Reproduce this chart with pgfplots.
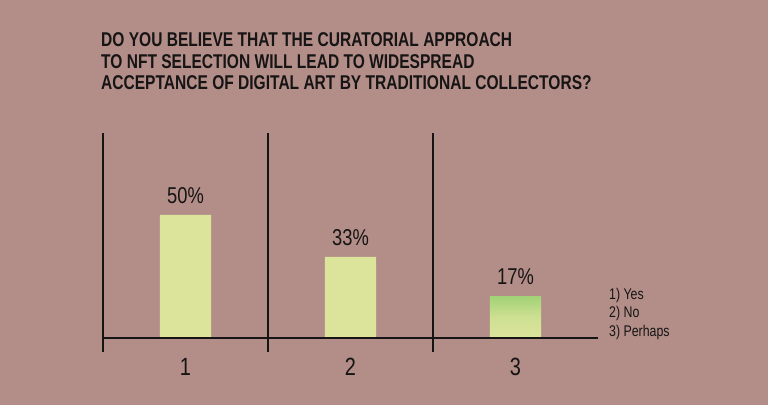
\documentclass[border=0pt]{standalone}
\usepackage{fontspec}
\setmainfont{Liberation Sans}[FakeStretch=0.8]
\newfontfamily\titlefont{Liberation Sans}[FakeStretch=0.78]
\usepackage{pgfplots}
\pgfplotsset{compat=1.18}
\definecolor{bg}{RGB}{179,142,136}
\definecolor{barc}{RGB}{220,228,156}
\definecolor{bargreen}{RGB}{162,210,118}
\definecolor{ink}{RGB}{22,20,20}
\begin{document}
\begin{tikzpicture}[x=1bp,y=1bp]
\fill[bg] (0,0) rectangle (768,405);
\useasboundingbox (0,0) rectangle (768,405);
\node[anchor=north west, align=left, text=ink, inner sep=0,
      font=\titlefont\bfseries\fontsize{20}{22}\selectfont] at (101,373)
  {DO YOU BELIEVE THAT THE CURATORIAL APPROACH\\
   TO NFT SELECTION WILL LEAD TO WIDESPREAD\\
   ACCEPTANCE OF DIGITAL ART BY TRADITIONAL COLLECTORS?};
\begin{axis}[at={(103bp,53bp)}, anchor=south west, scale only axis,
  width=495bp, height=219bp,
  xmin=0.5, xmax=3.5, ymin=-5.7, ymax=83.3,
  axis line style={draw=none}, tick style={draw=none},
  ytick=\empty, xtick={1,2,3},
  xticklabel style={font=\fontsize{25}{25}\selectfont, text=ink, yshift=-3bp},
  clip=false,
  /pgf/number format/assume math mode=true,
  nodes near coords={\pgfmathprintnumber{\pgfplotspointmeta}\%},
  every node near coord/.append style={font=\fontsize{23}{23}\selectfont, text=ink, yshift=8bp},
]
\addplot[ybar, bar shift=0pt, bar width=0.31, fill=barc, draw=none]
  coordinates {(1,50) (2,33)};
\addplot[ybar, bar shift=0pt, bar width=0.31, draw=none,
  top color=bargreen, bottom color=barc, middle color=barc!75!bargreen]
  coordinates {(3,17)};
\draw[ink, line width=1.4bp] (axis cs:0.5,-5.7) -- (axis cs:0.5,83.3);
\draw[ink, line width=1.4bp] (axis cs:1.5,-5.7) -- (axis cs:1.5,83.3);
\draw[ink, line width=1.4bp] (axis cs:2.5,-5.7) -- (axis cs:2.5,83.3);
\draw[ink, line width=1.4bp] (axis cs:0.5,0) -- (axis cs:3.5,0);
\end{axis}
\node[anchor=west, align=left, inner sep=0, text=ink,
      font=\fontsize{15.5}{19}\selectfont] at (609,91)
  {1) Yes\\2) No\\3) Perhaps};
\end{tikzpicture}
\end{document}
